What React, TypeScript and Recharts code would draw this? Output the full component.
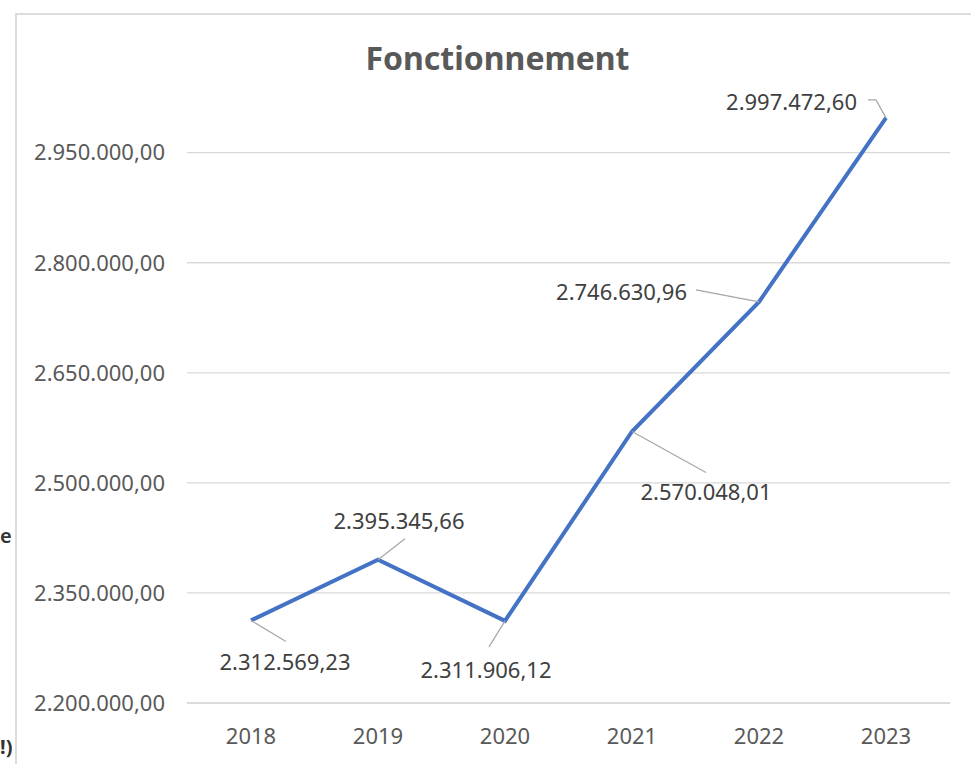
import React from "react";
import { LineChart, Line, XAxis, YAxis, CartesianGrid, LabelList } from "recharts";

const years = ["2018", "2019", "2020", "2021", "2022", "2023"];
const values = [2312569.23, 2395345.66, 2311906.12, 2570048.01, 2746630.96, 2997472.6];
const yTicks = [2200000, 2350000, 2500000, 2650000, 2800000, 2950000];
const yDomain = [2200000, 3000000];
const title = "Fonctionnement";

const data = years.map((y, i) => ({ year: y, value: values[i] }));

// label placement relative to each point (style only)
const labelLayout = [
  { dx: 34, dy: 41, anchor: "middle", leader: [[0, 0], [35, 21]] },
  { dx: 21, dy: -40, anchor: "middle", leader: [[0, 0], [27, -21]] },
  { dx: -19, dy: 48, anchor: "middle", leader: [[0, 0], [-16, 26]] },
  { dx: 74, dy: 60, anchor: "middle", leader: [[0, 0], [74, 41]] },
  { dx: -72, dy: -11, anchor: "end", leader: [[0, 0], [-63, -12]] },
  { dx: -29, dy: -17, anchor: "end", leader: [[0, 0], [-10, -18], [-18, -18]] },
];

const FONT = "'Noto Sans', sans-serif";

function fmt(v: number): string {
  const fixed = Math.abs(v).toFixed(2);
  const [intPart, dec] = fixed.split(".");
  const withDots = intPart.replace(/\B(?=(\d{3})+(?!\d))/g, ".");
  return (v < 0 ? "-" : "") + withDots + "," + dec;
}

const renderLabel = (props: any) => {
  const { x, y, index, value } = props;
  const l = labelLayout[index];
  if (!l) return null;
  const pts = l.leader.map((p) => `${x + p[0]},${y + p[1]}`).join(" ");
  return (
    <g key={`lbl-${index}`}>
      <polyline points={pts} fill="none" stroke="#a6a6a6" strokeWidth={1.2} />
      <text
        x={x + l.dx}
        y={y + l.dy}
        textAnchor={l.anchor as any}
        dominantBaseline="central"
        fill="#404040"
        fontSize={22}
        fontFamily={FONT}
      >
        {fmt(Number(value))}
      </text>
    </g>
  );
};

export default function App() {
  return (
    <div style={{ position: "absolute", left: 0, top: 0, width: 971, height: 764, background: "#fff", overflow: "hidden" }}>
      <div
        style={{
          position: "absolute",
          left: 15,
          top: 13,
          width: 971,
          height: 780,
          borderTop: "2px solid #dcdcdc",
          borderLeft: "2px solid #dcdcdc",
        }}
      />
      <div style={{ position: "absolute", left: 0, top: 522, fontFamily: FONT, fontSize: 20, color: "#333", fontWeight: 600 }}>
        e
      </div>
      <div style={{ position: "absolute", left: 0, top: 733, fontFamily: FONT, fontSize: 20, color: "#333", fontWeight: 700 }}>
        !)
      </div>
      <div
        style={{
          position: "absolute",
          left: 0,
          width: 995,
          top: 36,
          textAlign: "center",
          fontFamily: FONT,
          fontWeight: 700,
          fontSize: 32,
          color: "#595959",
          lineHeight: "44px",
        }}
      >
        {title}
      </div>
      <div style={{ position: "absolute", left: 0, top: 0 }}>
        <LineChart width={971} height={764} data={data} margin={{ top: 116, right: 21, bottom: 0, left: 0 }}>
          <CartesianGrid
            horizontal={true}
            vertical={false}
            horizontalValues={yTicks}
            stroke="#d9d9d9"
            strokeWidth={1.3}
          />
          <XAxis
            dataKey="year"
            height={61}
            padding={{ left: 64, right: 64 }}
            axisLine={{ stroke: "#d9d9d9", strokeWidth: 1.3 }}
            tickLine={false}
            tickSize={0}
            tickMargin={25}
            tick={{ fill: "#595959", fontSize: 22, fontFamily: FONT }}
            interval={0}
          />
          <YAxis
            type="number"
            domain={yDomain}
            ticks={yTicks}
            width={187}
            axisLine={false}
            tickLine={false}
            tickSize={0}
            tickMargin={22}
            tickFormatter={(v: number) => fmt(v)}
            tick={{ fill: "#595959", fontSize: 22, fontFamily: FONT }}
            interval={0}
          />
          <Line
            type="linear"
            dataKey="value"
            stroke="#4472C4"
            strokeWidth={4}
            dot={false}
            isAnimationActive={false}
          >
            <LabelList dataKey="value" content={renderLabel} />
          </Line>
        </LineChart>
      </div>
    </div>
  );
}
